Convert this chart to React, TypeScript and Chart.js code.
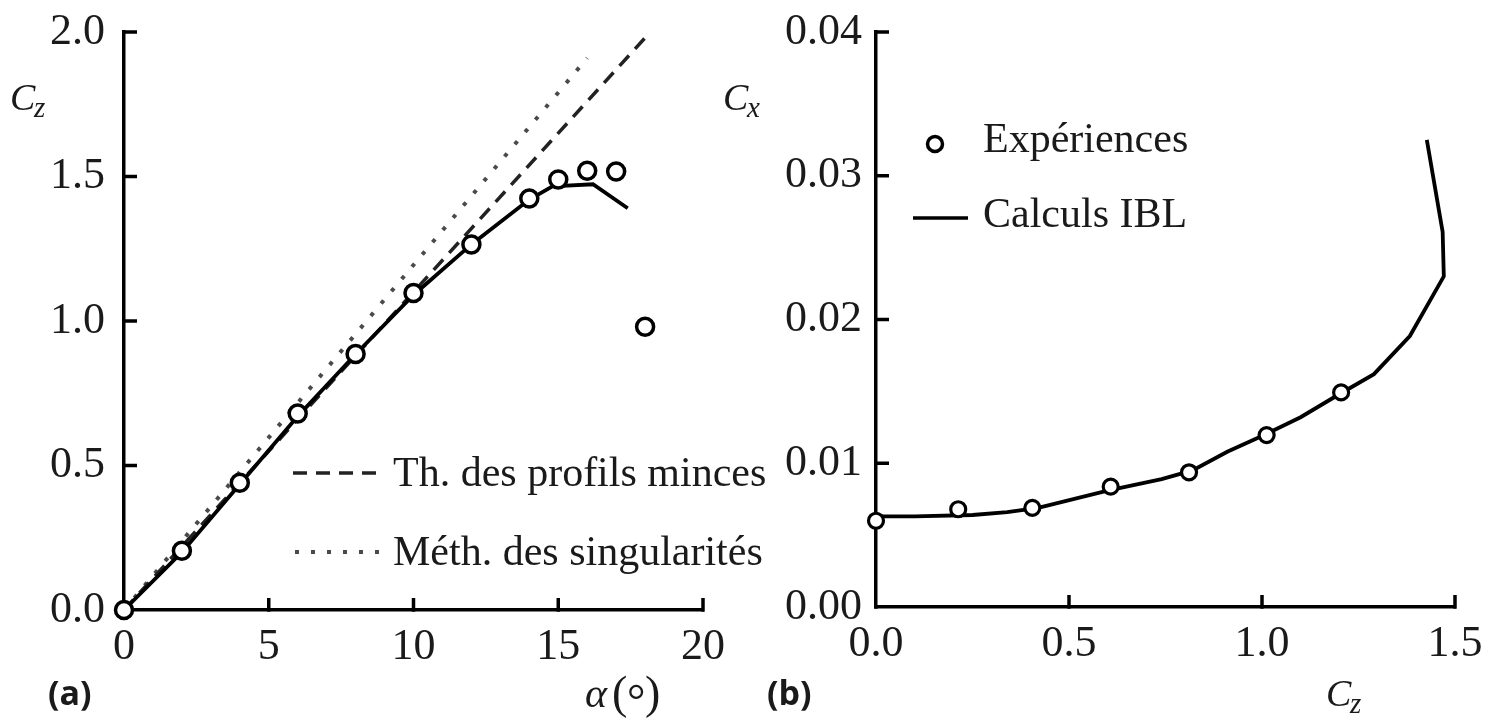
import React, { useEffect, useRef } from "react";
import { Chart, registerables } from "chart.js";

Chart.register(...registerables);

// ---------- Panel (a): Cz vs alpha ----------
const alphaExp = [0, 2, 4, 6, 8, 10, 12, 14, 15, 16, 17, 18];
const czExp = [0, 0.205, 0.44, 0.68, 0.886, 1.097, 1.265, 1.424, 1.49, 1.52, 1.517, 0.98];
const alphaIBL = [0, 2, 4, 6, 8, 10, 12, 14, 14.8, 16.2, 17.4];
const czIBL = [0, 0.2, 0.435, 0.67, 0.885, 1.09, 1.265, 1.42, 1.466, 1.473, 1.39];
const alphaThin = [0, 18];
const czThin = [0, 1.98];
const alphaSing = [0, 16];
const czSing = [0, 1.91];
const alphaTicks = [0, 5, 10, 15, 20];
const czTicks = [0, 0.5, 1.0, 1.5, 2.0];

// ---------- Panel (b): Cx vs Cz ----------
const czPolarExp = [0, 0.213, 0.405, 0.608, 0.811, 1.012, 1.205];
const cxPolarExp = [0.006, 0.0068, 0.0069, 0.00837, 0.00937, 0.01196, 0.01493];
const czPolarIBL = [0, 0.1, 0.25, 0.34, 0.42, 0.6, 0.74, 0.82, 0.91, 1.0, 1.1, 1.2, 1.29, 1.383, 1.471, 1.468, 1.427];
const cxPolarIBL = [0.0063, 0.0063, 0.0064, 0.0066, 0.0069, 0.0081, 0.0089, 0.0095, 0.0108, 0.0119, 0.0132, 0.0148, 0.0162, 0.01885, 0.023, 0.0261, 0.0325];
const czTicksB = [0, 0.5, 1.0, 1.5];
const cxTicksB = [0, 0.01, 0.02, 0.03, 0.04];

const SERIF = '"Liberation Serif", "Times New Roman", serif';
const SANS = '"Open Sans", "Noto Sans", sans-serif';
const INK = "#1a1a1a";

const pts = (xs: number[], ys: number[]) => xs.map((x, i) => ({ x, y: ys[i] }));

const inwardTicks = {
  id: "inwardTicks",
  beforeDatasetsDraw(chart: any) {
    const ctx = chart.ctx;
    const xs = chart.scales.x;
    const ys = chart.scales.y;
    ctx.save();
    ctx.strokeStyle = "#000";
    ctx.lineWidth = 3.5;
    ctx.lineCap = "butt";
    xs.ticks.forEach((t: any) => {
      const px = xs.getPixelForValue(t.value);
      if (Math.abs(px - xs.left) < 2) return;
      ctx.beginPath();
      ctx.moveTo(px, ys.bottom + 1.7);
      ctx.lineTo(px, ys.bottom - 12);
      ctx.stroke();
    });
    ys.ticks.forEach((t: any) => {
      const py = ys.getPixelForValue(t.value);
      if (Math.abs(py - ys.bottom) < 2) return;
      ctx.beginPath();
      ctx.moveTo(xs.left - 1.7, py);
      ctx.lineTo(xs.left + 13, py);
      ctx.stroke();
    });
    ctx.fillStyle = "#000";
    ctx.fillRect(xs.left - 1.75, ys.bottom - 1.75, 3.5, 3.5);
    ctx.restore();
  },
};

function sub(ctx: CanvasRenderingContext2D, main: string, s: string, x: number, y: number, size: number, subSize: number, dx: number, dy: number) {
  ctx.font = `italic ${size}px ${SERIF}`;
  ctx.fillText(main, x, y);
  ctx.font = `italic ${subSize}px ${SERIF}`;
  ctx.fillText(s, x + dx, y + dy);
}

function drawTextsA(ctx: CanvasRenderingContext2D) {
  ctx.save();
  ctx.fillStyle = INK;
  ctx.textBaseline = "alphabetic";
  ctx.textAlign = "left";
  sub(ctx, "C", "z", 10, 110, 38, 29, 24, 7);

  // legend
  ctx.strokeStyle = "#222";
  ctx.lineWidth = 3.5;
  ctx.setLineDash([14, 9]);
  ctx.beginPath();
  ctx.moveTo(293, 473);
  ctx.lineTo(378, 473);
  ctx.stroke();
  ctx.strokeStyle = "#4a4a4a";
  ctx.lineWidth = 4;
  ctx.setLineDash([4, 12]);
  ctx.beginPath();
  ctx.moveTo(295, 552);
  ctx.lineTo(380, 552);
  ctx.stroke();
  ctx.setLineDash([]);
  ctx.font = `42px ${SERIF}`;
  ctx.fillText("Th. des profils minces", 393, 486);
  ctx.fillText("Méth. des singularités", 393, 565);

  // x title
  ctx.font = `italic 42px ${SERIF}`;
  ctx.fillText("α", 585, 707);
  ctx.font = `46px ${SERIF}`;
  ctx.fillText("(", 612, 708);
  ctx.fillText(")", 645, 708);
  ctx.font = `46px ${SERIF}`;
  ctx.fillText("°", 627, 716);

  ctx.font = `bold 34px ${SANS}`;
  ctx.fillText("(a)", 48, 705);
  ctx.restore();
}

function drawTextsB(ctx: CanvasRenderingContext2D) {
  ctx.save();
  ctx.fillStyle = INK;
  ctx.textBaseline = "alphabetic";
  ctx.textAlign = "left";
  sub(ctx, "C", "x", 723, 110, 38, 29, 24, 7);

  // legend
  ctx.beginPath();
  ctx.arc(935, 144, 7.5, 0, Math.PI * 2);
  ctx.fillStyle = "#fff";
  ctx.fill();
  ctx.strokeStyle = "#000";
  ctx.lineWidth = 3.5;
  ctx.stroke();
  ctx.beginPath();
  ctx.moveTo(913, 218);
  ctx.lineTo(968, 218);
  ctx.stroke();
  ctx.fillStyle = INK;
  ctx.font = `42px ${SERIF}`;
  ctx.fillText("Expériences", 983, 152);
  ctx.fillText("Calculs IBL", 983, 227);

  sub(ctx, "C", "z", 1326, 706, 38, 29, 24, 7);

  ctx.font = `bold 34px ${SANS}`;
  ctx.fillText("(b)", 767, 705);
  ctx.restore();
}

function axisCommon(ticks: number[], fmt: (v: number) => string, padding: number) {
  return {
    type: "linear" as const,
    min: ticks[0],
    max: ticks[ticks.length - 1],
    afterBuildTicks: (s: any) => {
      s.ticks = ticks.map((v) => ({ value: v }));
    },
    ticks: {
      font: { family: SERIF, size: 44 },
      color: INK,
      padding,
      maxRotation: 0,
      autoSkip: false,
      callback: (v: any) => fmt(Number(v)),
    },
    grid: { display: false, drawTicks: false },
    border: { display: true, color: "#000", width: 3.5 },
  };
}

const fixSize = (prop: "width" | "height", size: number) => (s: any) => {
  s[prop] = size;
  s.paddingTop = 0;
  s.paddingBottom = 0;
  s.paddingLeft = 0;
  s.paddingRight = 0;
};

const markerStyle = {
  showLine: false,
  pointRadius: 8,
  pointBorderWidth: 3.5,
  pointBackgroundColor: "#fff",
  pointBorderColor: "#000",
  clip: false as const,
};

const lineStyle = (color: string, dash: number[]) => ({
  showLine: true,
  pointRadius: 0,
  borderColor: color,
  borderWidth: 3.5,
  borderDash: dash,
  borderCapStyle: "butt" as const,
  tension: 0,
  fill: false,
  clip: false as const,
});

export default function App() {
  const refA = useRef<HTMLCanvasElement>(null);
  const refB = useRef<HTMLCanvasElement>(null);

  useEffect(() => {
    const chartA = new Chart(refA.current as HTMLCanvasElement, {
      type: "scatter",
      data: {
        datasets: [
          { label: "Expériences", data: pts(alphaExp, czExp), ...markerStyle, pointRadius: 8.5 },
          { label: "Calculs IBL", data: pts(alphaIBL, czIBL), ...lineStyle("#000", []), borderWidth: 3.8 },
          { label: "Th. des profils minces", data: pts(alphaThin, czThin), ...lineStyle("#222", [14, 9]) },
          { label: "Méth. des singularités", data: pts(alphaSing, czSing), ...lineStyle("#4a4a4a", [4, 12]), borderWidth: 4 },
        ],
      },
      options: {
        animation: false,
        responsive: false,
        events: [],
        layout: { padding: { left: 0, top: 32, right: 1501 - 703, bottom: 0 } },
        plugins: { legend: { display: false }, tooltip: { enabled: false } },
        scales: {
          x: { ...axisCommon(alphaTicks, (v) => String(v), 11), afterFit: fixSize("height", 112) },
          y: { ...axisCommon(czTicks, (v) => v.toFixed(1), 19), afterFit: fixSize("width", 124) },
        },
      },
      plugins: [inwardTicks, { id: "textsA", afterDraw: (c: any) => drawTextsA(c.ctx) }],
    } as any);

    const chartB = new Chart(refB.current as HTMLCanvasElement, {
      type: "scatter",
      data: {
        datasets: [
          { label: "Expériences", data: pts(czPolarExp, cxPolarExp), ...markerStyle, pointRadius: 7.5, pointBorderWidth: 3.2 },
          { label: "Calculs IBL", data: pts(czPolarIBL, cxPolarIBL), ...lineStyle("#000", []), borderWidth: 3.8 },
        ],
      },
      options: {
        animation: false,
        responsive: false,
        events: [],
        layout: { padding: { left: 770, top: 32, right: 1501 - 1455, bottom: 0 } },
        plugins: { legend: { display: false }, tooltip: { enabled: false } },
        scales: {
          x: { ...axisCommon(czTicksB, (v) => v.toFixed(1), 11), afterFit: fixSize("height", 115) },
          y: { ...axisCommon(cxTicksB, (v) => v.toFixed(2), 14), afterFit: fixSize("width", 106) },
        },
      },
      plugins: [inwardTicks, { id: "textsB", afterDraw: (c: any) => drawTextsB(c.ctx) }],
    } as any);

    return () => {
      chartA.destroy();
      chartB.destroy();
    };
  }, []);

  const canvasStyle: React.CSSProperties = { position: "absolute", left: 0, top: 0, width: 1501, height: 722 };
  return (
    <div style={{ position: "absolute", left: 0, top: 0, width: 1501, height: 722, background: "#fff", overflow: "hidden" }}>
      <canvas ref={refA} width={1501} height={722} style={canvasStyle} />
      <canvas ref={refB} width={1501} height={722} style={canvasStyle} />
    </div>
  );
}
